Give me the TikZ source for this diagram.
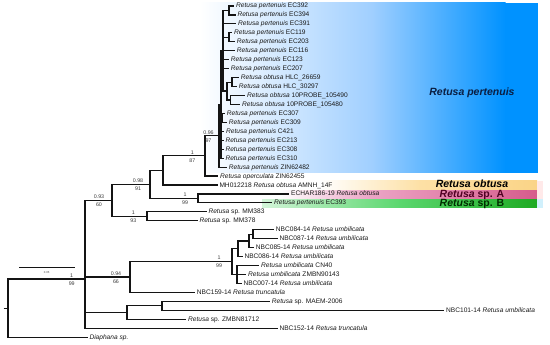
\documentclass[tikz,border=0pt]{standalone}
\usepackage{fontspec}
\setmainfont{Liberation Sans}
\definecolor{treec}{RGB}{20,20,20}
\definecolor{leafc}{RGB}{25,25,25}
\definecolor{supc}{RGB}{60,60,60}
\definecolor{blueA}{RGB}{160,207,255}
\definecolor{blueB}{RGB}{0,146,255}
\definecolor{orA}{RGB}{253,224,165}
\definecolor{orB}{RGB}{250,212,135}
\definecolor{pkA}{RGB}{236,165,198}
\definecolor{pkB}{RGB}{214,92,140}
\definecolor{gnA}{RGB}{90,215,110}
\definecolor{gnB}{RGB}{30,170,35}
\definecolor{pertc}{RGB}{10,30,66}
\definecolor{spAc}{RGB}{80,0,35}
\definecolor{spBc}{RGB}{0,45,0}
\begin{document}
\begin{tikzpicture}[x=1pt,y=-1pt,
  br/.style={line width=1.15pt, draw=treec, line join=miter},
  leaf/.style={anchor=west, inner xsep=1.6pt, inner ysep=0pt, text height=4pt, text depth=0pt, font=\fontsize{6.6}{7}\selectfont, text=leafc},
  suplab/.style={font=\fontsize{5.3}{5.5}\selectfont, text=supc, inner sep=0pt},
  bandlab/.style={font=\fontsize{10.5}{11}\selectfont\bfseries, inner sep=0pt, anchor=base}]
\useasboundingbox (0,0) rectangle (550,345);
% ---- coloured backgrounds ----
\shade[left color=white, right color=blueA] (200,2.7) rectangle (372.5,172.7);
\shade[left color=blueA, right color=blueB] (372,2.7) rectangle (505.5,172.7);
\fill[blueB] (505,2.7) rectangle (538,172.7);
\shade[left color=white, right color=orA] (320,181) rectangle (420.5,190.6);
\shade[left color=orA, right color=orB] (420,181) rectangle (537,190.6);
\shade[left color=white, right color=pkA] (280,190.6) rectangle (370.5,199.3);
\shade[left color=pkA, right color=pkB] (370,190.6) rectangle (537,199.3);
\shade[left color=white!40!gnA!45, right color=gnA] (262,199.3) rectangle (400.5,208);
\shade[left color=gnA, right color=gnB] (400,199.3) rectangle (537,208);
\fill[pink!35] (537,181) rectangle (543,199.3);
\fill[cyan!18] (537,199.3) rectangle (543,208);
\node[bandlab, text=pertc] (labPert) at (472,96) {\textit{Retusa pertenuis}};
\node[bandlab, text=black] (labObt) at (472,187.8) {\textit{Retusa obtusa}};
\node[bandlab, text=spAc] (labA) at (472,197.6) {\textit{Retusa} sp. A};
\node[bandlab, text=spBc] (labB) at (472,206.6) {\textit{Retusa} sp. B};
% ---- internal nodes ----
\coordinate (r0) at (3.5,308.08);
\coordinate (root) at (8,308.08);
\coordinate (A) at (85,279);
\coordinate (B) at (112,200.38);
\coordinate (L) at (150,184.44);
\coordinate (O) at (163,170.45);
\coordinate (P) at (205,155.9);
\coordinate (Q) at (219,135.78);
\coordinate (T) at (221,104.45);
\coordinate (R) at (223,50.75);
\coordinate (U) at (222.5,117.88);
\coordinate (p392) at (229,10.48);
\coordinate (p119) at (229,37.33);
\coordinate (S) at (227,91.03);
\coordinate (hlc) at (232,82.08);
\coordinate (probe) at (230.5,99.98);
\coordinate (N) at (198,198.43);
\coordinate (M) at (147,216.33);
\coordinate (C) at (130,277.02);
\coordinate (E) at (232,261.64);
\coordinate (I) at (238,248.77);
\coordinate (H) at (249,240.94);
\coordinate (p84) at (253,234.23);
\coordinate (G) at (237,274.5);
\coordinate (D) at (127,312.54);
\coordinate (K) at (162,305.83);
% ---- leaves ----
\node[leaf] (l0) at (234.4,6) {\textit{Retusa pertenuis} EC392};
\node[leaf] (l1) at (235.7,14.95) {\textit{Retusa pertenuis} EC394};
\node[leaf] (l2) at (236.4,23.9) {\textit{Retusa pertenuis} EC391};
\node[leaf] (l3) at (232.4,32.85) {\textit{Retusa pertenuis} EC119};
\node[leaf] (l4) at (235.1,41.8) {\textit{Retusa pertenuis} EC203};
\node[leaf] (l5) at (235.1,50.75) {\textit{Retusa pertenuis} EC116};
\node[leaf] (l6) at (229.1,59.7) {\textit{Retusa pertenuis} EC123};
\node[leaf] (l7) at (229.1,68.65) {\textit{Retusa pertenuis} EC207};
\node[leaf] (l8) at (239.1,77.6) {\textit{Retusa obtusa} HLC\_26659};
\node[leaf] (l9) at (237.1,86.55) {\textit{Retusa obtusa} HLC\_30297};
\node[leaf] (l10) at (245.4,95.5) {\textit{Retusa obtusa} 10PROBE\_105490};
\node[leaf] (l11) at (240.4,104.45) {\textit{Retusa obtusa} 10PROBE\_105480};
\node[leaf] (l12) at (225.1,113.4) {\textit{Retusa pertenuis} EC307};
\node[leaf] (l13) at (227.1,122.35) {\textit{Retusa pertenuis} EC309};
\node[leaf] (l14) at (224.4,131.3) {\textit{Retusa pertenuis} C421};
\node[leaf] (l15) at (223.7,140.25) {\textit{Retusa pertenuis} EC213};
\node[leaf] (l16) at (223.7,149.2) {\textit{Retusa pertenuis} EC308};
\node[leaf] (l17) at (223.7,158.15) {\textit{Retusa pertenuis} EC310};
\node[leaf] (l18) at (227.1,167.1) {\textit{Retusa pertenuis} ZIN62482};
\node[leaf] (l19) at (218.4,176.05) {\textit{Retusa operculata} ZIN62455};
\node[leaf] (l20) at (217.7,185) {MH012218 \textit{Retusa obtusa} AMNH\_14F};
\node[leaf] (l21) at (289.4,193.95) {ECHAR186-19 \textit{Retusa obtusa}};
\node[leaf] (l22) at (272.4,202.9) {\textit{Retusa pertenuis} EC393};
\node[leaf] (l23) at (206.7,211.85) {\textit{Retusa} sp. MM383};
\node[leaf] (l24) at (197.7,220.8) {\textit{Retusa} sp. MM378};
\node[leaf] (l25) at (274.1,229.75) {NBC084-14 \textit{Retusa umbilicata}};
\node[leaf] (l26) at (277.7,238.7) {NBC087-14 \textit{Retusa umbilicata}};
\node[leaf] (l27) at (254.1,247.65) {NBC085-14 \textit{Retusa umbilicata}};
\node[leaf] (l28) at (242.7,256.6) {NBC086-14 \textit{Retusa umbilicata}};
\node[leaf] (l29) at (259.4,265.55) {\textit{Retusa umbilicata} CN40};
\node[leaf] (l30) at (246.4,274.5) {\textit{Retusa umbilicata} ZMBN90143};
\node[leaf] (l31) at (241.7,283.45) {NBC007-14 \textit{Retusa umbilicata}};
\node[leaf] (l32) at (195.1,292.4) {NBC159-14 \textit{Retusa truncatula}};
\node[leaf] (l33) at (270.1,301.35) {\textit{Retusa} sp. MAEM-2006};
\node[leaf] (l34) at (444.4,310.3) {NBC101-14 \textit{Retusa umbilicata}};
\node[leaf] (l35) at (186.4,319.25) {\textit{Retusa} sp. ZMBN81712};
\node[leaf] (l36) at (277.7,328.2) {NBC152-14 \textit{Retusa truncatula}};
\node[leaf] (l37) at (87.7,337.15) {\textit{Diaphana sp.}};
% ---- branches ----
\draw[br] (r0) -- (root);
\draw[br] (root) |- (A);
\draw[br] (root) |- (l37.west);
\draw[br] (A) |- (B);
\draw[br] (A) |- (C);
\draw[br] (A) |- (D);
\draw[br] (A) |- (l36.west);
\draw[br] (B) |- (L);
\draw[br] (B) |- (M);
\draw[br] (L) |- (O);
\draw[br] (L) |- (N);
\draw[br] (O) |- (P);
\draw[br] (O) |- (l20.west);
\draw[br] (P) |- (Q);
\draw[br] (P) |- (l19.west);
\draw[br] (Q) |- (T);
\draw[br] (Q) |- (l18.west);
\draw[br] (T) |- (R);
\draw[br] (T) |- (U);
\draw[br] (T) |- (l14.west);
\draw[br] (T) |- (l15.west);
\draw[br] (T) |- (l16.west);
\draw[br] (T) |- (l17.west);
\draw[br] (U) |- (l12.west);
\draw[br] (U) |- (l13.west);
\draw[br] (R) |- (p392);
\draw[br] (R) |- (l2.west);
\draw[br] (R) |- (p119);
\draw[br] (R) |- (l5.west);
\draw[br] (R) |- (l6.west);
\draw[br] (R) |- (l7.west);
\draw[br] (R) |- (S);
\draw[br] (p392) |- (l0.west);
\draw[br] (p392) |- (l1.west);
\draw[br] (p119) |- (l3.west);
\draw[br] (p119) |- (l4.west);
\draw[br] (S) |- (hlc);
\draw[br] (S) |- (probe);
\draw[br] (hlc) |- (l8.west);
\draw[br] (hlc) |- (l9.west);
\draw[br] (probe) |- (l10.west);
\draw[br] (probe) |- (l11.west);
\draw[br] (N) |- (l21.west);
\draw[br] (N) |- (l22.west);
\draw[br] (M) |- (l23.west);
\draw[br] (M) |- (l24.west);
\draw[br] (C) |- (E);
\draw[br] (C) |- (l32.west);
\draw[br] (E) |- (I);
\draw[br] (E) |- (G);
\draw[br] (I) |- (H);
\draw[br] (I) |- (l28.west);
\draw[br] (H) |- (p84);
\draw[br] (H) |- (l27.west);
\draw[br] (p84) |- (l25.west);
\draw[br] (p84) |- (l26.west);
\draw[br] (G) |- (l29.west);
\draw[br] (G) |- (l30.west);
\draw[br] (G) |- (l31.west);
\draw[br] (D) |- (K);
\draw[br] (D) |- (l35.west);
\draw[br] (K) |- (l33.west);
\draw[br] (K) |- (l34.west);
% ---- support values ----
\node[suplab] (sQa) at (208.5,132.3) {0.96};
\node[suplab] (sQb) at (208.5,140.2) {97};
\node[suplab] (sPa) at (192.3,152.4) {1};
\node[suplab] (sPb) at (192.3,160.3) {87};
\node[suplab] (sLa) at (138,180.9) {0.98};
\node[suplab] (sLb) at (138,188.8) {91};
\node[suplab] (sNa) at (185,194.9) {1};
\node[suplab] (sNb) at (185,202.8) {99};
\node[suplab] (sBa) at (99,196.9) {0.93};
\node[suplab] (sBb) at (99,204.8) {60};
\node[suplab] (sMa) at (133.3,212.8) {1};
\node[suplab] (sMb) at (133.3,220.7) {93};
\node[suplab] (sAa) at (71.7,275.5) {1};
\node[suplab] (sAb) at (71.7,283.4) {99};
\node[suplab] (sCa) at (116,273.5) {0.94};
\node[suplab] (sCb) at (116,281.4) {66};
\node[suplab] (sEa) at (219,258.1) {1};
\node[suplab] (sEb) at (219,266) {99};
% ---- scale bar ----
\coordinate (sb1) at (19.3,267.3);
\coordinate (sb2) at (75,267.3);
\draw[line width=0.9pt, draw=treec] (sb1) -- (sb2);
\node[font=\fontsize{2.8}{3}\selectfont, text=supc, inner sep=0pt] (sbl) at (46.7,273) {0.05};
\end{tikzpicture}
\end{document}
